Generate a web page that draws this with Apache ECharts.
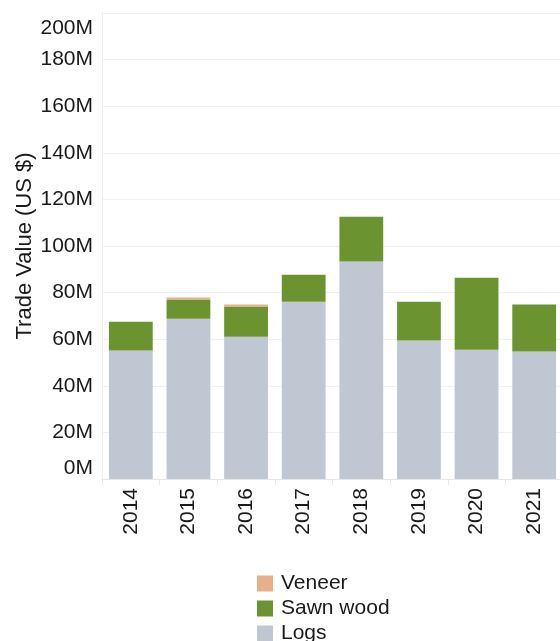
<!DOCTYPE html>
<html>
<head>
<meta charset="utf-8">
<script src="https://cdn.jsdelivr.net/npm/echarts@6/dist/echarts.min.js"></script>
<style>
  html, body { margin: 0; padding: 0; background: #fff; }
  #chart { width: 560px; height: 641px; }
</style>
</head>
<body>
<div id="chart"></div>
<script>
// values in millions of US $
const years = ['2014', '2015', '2016', '2017', '2018', '2019', '2020', '2021'];
const logs = [55.1, 68.8, 61.1, 76.1, 93.3, 59.4, 55.5, 54.7];
const sawnWood = [12.4, 8.2, 12.9, 11.6, 19.3, 16.7, 30.9, 20.2];
const veneer = [0, 0.9, 0.9, 0, 0, 0, 0, 0];

const colors = {
  Veneer: '#e6b08a',
  'Sawn wood': '#6b9431',
  Logs: '#bfc8d2'
};

const font = 'Liberation Sans, Arial, sans-serif';
const chart = echarts.init(document.getElementById('chart'));

const makeSeries = (name, data) => ({
  name: name,
  type: 'bar',
  stack: 'total',
  data: data,
  barCategoryGap: '24%',
  itemStyle: { color: colors[name] },
  emphasis: { disabled: true }
});

chart.setOption({
  animation: false,
  textStyle: { fontFamily: font },
  grid: { left: 102, right: -3, top: 13, bottom: 162, outerBoundsMode: 'none' },
  legend: {
    orient: 'vertical',
    left: 257,
    top: 573,
    height: 100,
    padding: 0,
    itemWidth: 16,
    itemHeight: 16,
    itemGap: 4,
    icon: 'rect',
    data: ['Veneer', 'Sawn wood', 'Logs'],
    textStyle: { fontSize: 21, color: '#1a1a1a', fontFamily: font, padding: [0, 0, 0, 3] }
  },
  xAxis: {
    type: 'category',
    data: years,
    axisLine: { show: true, lineStyle: { color: '#e6e6e6' } },
    axisTick: { show: true, length: 6, lineStyle: { color: '#e6e6e6' } },
    axisLabel: { rotate: 90, fontSize: 21, color: '#1a1a1a', margin: 9 }
  },
  yAxis: {
    type: 'value',
    min: 0,
    max: 200,
    interval: 20,
    name: 'Trade Value (US $)',
    nameLocation: 'middle',
    nameGap: 66,
    nameMoveOverlap: false,
    nameTextStyle: { fontSize: 22, color: '#1a1a1a' },
    axisLine: { show: true, lineStyle: { color: '#ececec' } },
    axisTick: { show: false },
    splitLine: { lineStyle: { color: '#f0f0f0' } },
    axisLabel: {
      fontSize: 21,
      color: '#1a1a1a',
      margin: 9,
      formatter: v => (v === 200 ? '{max|' + v + 'M}' : v + 'M'),
      rich: { max: { fontSize: 21, color: '#1a1a1a', padding: [5, 0, 0, 0] } },
      verticalAlignMinLabel: 'bottom',
      verticalAlignMaxLabel: 'top'
    }
  },
  series: [
    makeSeries('Logs', logs),
    makeSeries('Sawn wood', sawnWood),
    makeSeries('Veneer', veneer)
  ]
});
</script>
</body>
</html>
